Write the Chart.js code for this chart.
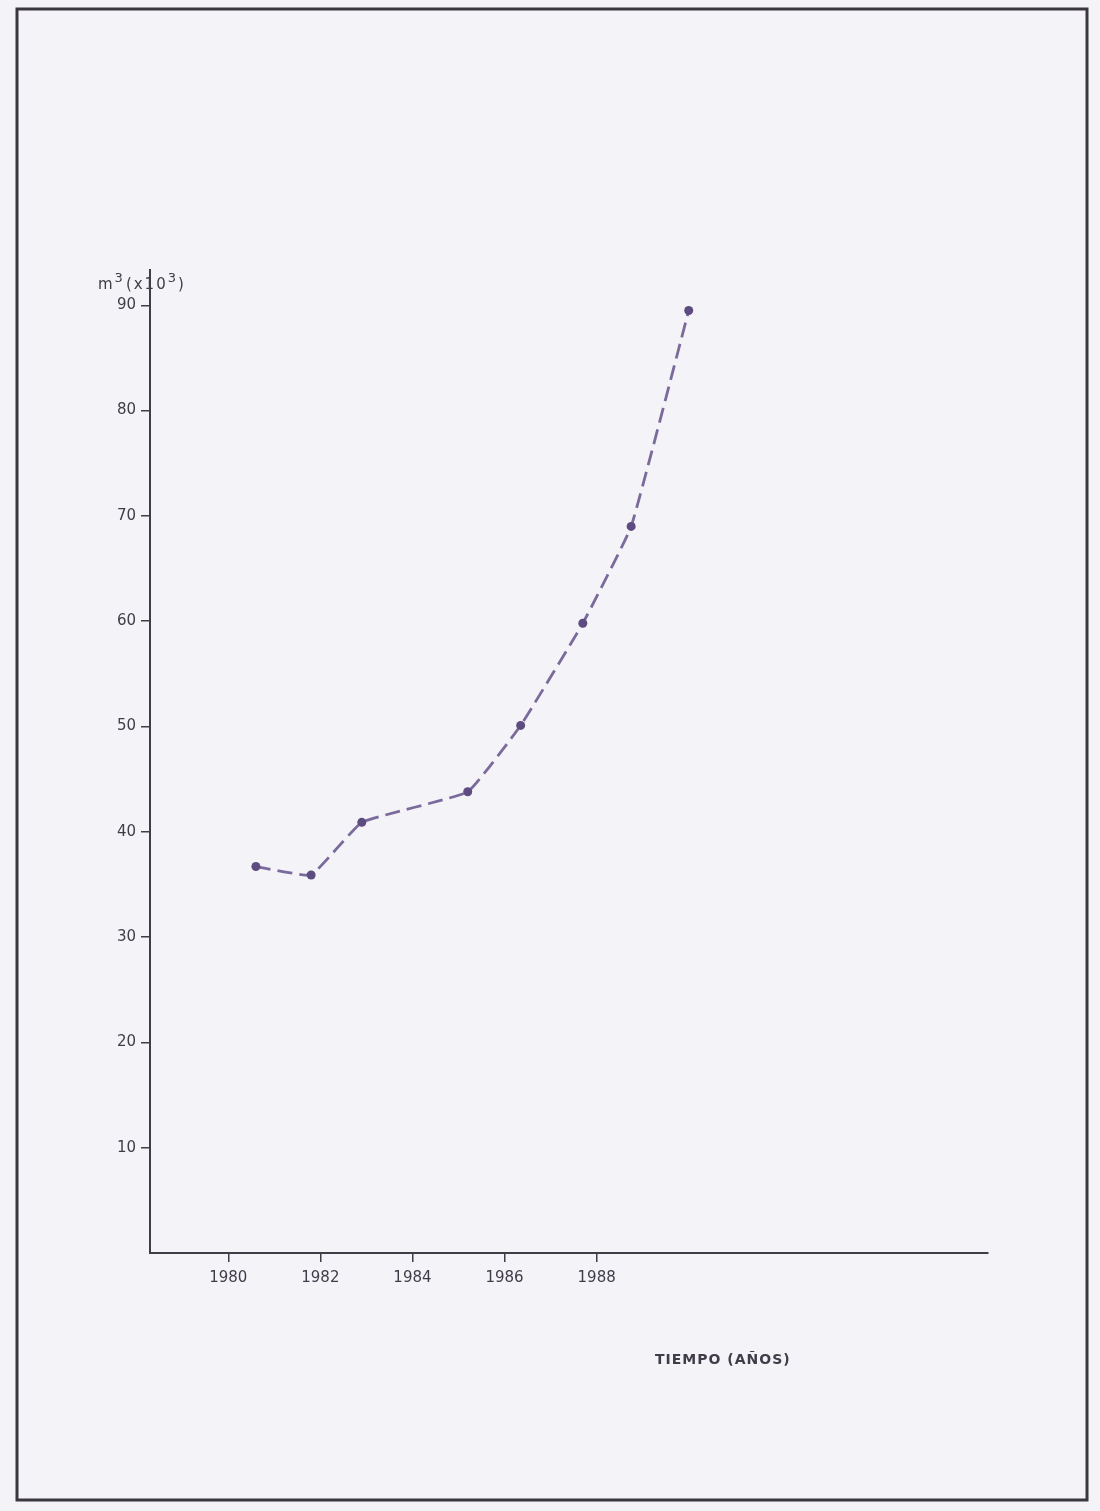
<!DOCTYPE html>
<html>
<head>
<meta charset="utf-8">
<script src="https://cdn.jsdelivr.net/npm/chart.js@4.4.1/dist/chart.umd.min.js"></script>
<style>
  html, body { margin: 0; padding: 0; background: #f4f3f8; }
  #wrap { width: 1100px; height: 1511px; position: relative; }
  canvas { display: block; }
</style>
</head>
<body>
<div id="wrap"><canvas id="c" width="1100" height="1511"></canvas></div>
<script>
// Annual volume, thousands of cubic metres
const years = [1980.6, 1981.8, 1982.9, 1985.2, 1986.35, 1987.7, 1988.75, 1990.0];
const volume = [36.7, 35.9, 40.9, 43.8, 50.1, 59.8, 69.0, 89.5];

// Axis tick labels
const yearTicks = [1980, 1982, 1984, 1986, 1988];
const volumeTicks = [10, 20, 30, 40, 50, 60, 70, 80, 90];

const xTitle = 'TIEMPO (AÑOS)';

const ink = '#403c48';
const lineColor = '#7b6a9c';
const pointColor = '#5d4c80';
const labelFont = '"DejaVu Sans", "Liberation Sans", sans-serif';

// Draws text pieces in sequence; raised pieces act as superscripts
function drawRun(ctx, parts, x, y) {
  let cx = x;
  parts.forEach(p => {
    ctx.font = p.font;
    ctx.fillText(p.text, cx, y - (p.rise || 0));
    cx += ctx.measureText(p.text).width + (p.gap || 0);
  });
}

// Page frame and free-standing axis captions
const pageDecor = {
  id: 'pageDecor',
  beforeDraw(chart) {
    const ctx = chart.ctx;
    ctx.save();
    ctx.fillStyle = '#f4f3f8';
    ctx.fillRect(0, 0, chart.width, chart.height);
    ctx.strokeStyle = '#3a383e';
    ctx.lineWidth = 3;
    ctx.strokeRect(17, 9, 1070, 1491);
    ctx.restore();
  },
  afterDraw(chart) {
    const ctx = chart.ctx;
    const area = chart.chartArea;
    ctx.save();
    ctx.fillStyle = ink;
    ctx.textBaseline = 'alphabetic';
    ctx.textAlign = 'left';
    ctx.letterSpacing = '2px';
    const base = '15px ' + labelFont;
    const sup = '13px ' + labelFont;
    drawRun(ctx, [
      { text: 'm', font: base },
      { text: '3', font: sup, rise: 7, gap: 1 },
      { text: '(x10', font: base },
      { text: '3', font: sup, rise: 7 },
      { text: ')', font: base }
    ], area.left - 52, area.top + 19);
    ctx.textBaseline = 'middle';
    ctx.font = '600 14px ' + labelFont;
    ctx.letterSpacing = '1px';
    ctx.fillText(xTitle, area.left + 505, area.bottom + 107);
    ctx.restore();
  }
};

new Chart(document.getElementById('c'), {
  type: 'line',
  data: {
    datasets: [{
      data: years.map((x, i) => ({ x: x, y: volume[i] })),
      borderColor: lineColor,
      borderWidth: 2.8,
      borderDash: [15, 7],
      tension: 0.1,
      pointRadius: 4.5,
      pointBackgroundColor: pointColor,
      pointBorderColor: pointColor,
      pointBorderWidth: 0,
      fill: false
    }]
  },
  options: {
    responsive: false,
    animation: false,
    devicePixelRatio: 1,
    layout: { padding: { left: 90, top: 270, right: 112, bottom: 208 } },
    plugins: {
      legend: { display: false },
      tooltip: { enabled: false },
      title: { display: false }
    },
    scales: {
      x: {
        type: 'linear',
        min: 1978.3,
        max: 1996.5,
        afterBuildTicks(scale) { scale.ticks = yearTicks.map(v => ({ value: v })); },
        afterFit(scale) { scale.height = 50; },
        grid: { display: true, drawOnChartArea: false, drawTicks: true, tickLength: 9, color: ink, lineWidth: 1.5 },
        border: { display: true, color: ink, width: 2 },
        ticks: {
          color: ink,
          padding: 7,
          font: { family: labelFont, size: 15 },
          callback: v => String(v)
        }
      },
      y: {
        type: 'linear',
        min: 0,
        max: 93.35,
        afterBuildTicks(scale) { scale.ticks = volumeTicks.map(v => ({ value: v })); },
        afterFit(scale) { scale.width = 60; },
        grid: { display: true, drawOnChartArea: false, drawTicks: true, tickLength: 9, color: ink, lineWidth: 1.5 },
        border: { display: true, color: ink, width: 2 },
        ticks: {
          color: ink,
          padding: 5,
          font: { family: labelFont, size: 15 },
          callback: v => String(v)
        }
      }
    }
  },
  plugins: [pageDecor]
});
</script>
</body>
</html>
